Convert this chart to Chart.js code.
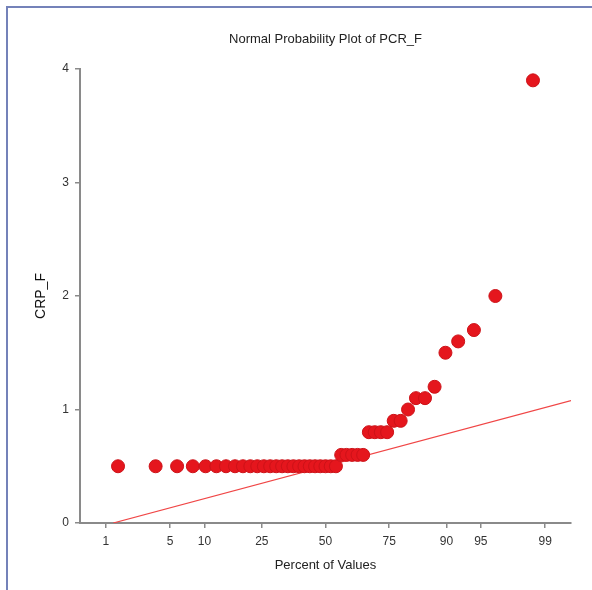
<!DOCTYPE html>
<html>
<head>
<meta charset="utf-8">
<script src="https://cdn.jsdelivr.net/npm/chart.js@4.4.0/dist/chart.umd.min.js"></script>
<style>
  html, body { margin: 0; padding: 0; background: #fff; }
  #wrap { position: relative; width: 592px; height: 590px; }
  #frame { position: absolute; left: 6px; top: 6px; right: 0; bottom: 0;
           border-left: 2px solid #7482b9; border-top: 2px solid #7482b9; pointer-events: none; }
  canvas { position: absolute; left: 0; top: 0; }
</style>
</head>
<body>
<div id="wrap">
  <canvas id="chart" width="592" height="590"></canvas>
  <div id="frame"></div>
</div>
<script>
// sorted CRP_F values
const crpValues = [
  0.5, 0.5, 0.5, 0.5, 0.5, 0.5, 0.5, 0.5, 0.5, 0.5,
  0.5, 0.5, 0.5, 0.5, 0.5, 0.5, 0.5, 0.5, 0.5, 0.5,
  0.5, 0.5, 0.5, 0.5, 0.5,
  0.6, 0.6, 0.6, 0.6, 0.6,
  0.8, 0.8, 0.8, 0.8,
  0.9, 0.9, 1.0, 1.1, 1.1, 1.2, 1.5, 1.6, 1.7, 2.0, 3.9
];
// percent of values for each point
const percents = [
  1.4, 3.6, 5.8, 8.0, 10.2, 12.4, 14.6, 16.9, 19.1, 21.3,
  23.5, 25.7, 27.9, 30.1, 32.3, 34.5, 36.7, 39.0, 41.2, 43.4,
  45.6, 47.8, 50.0, 52.2, 54.4,
  56.6, 58.8, 61.1, 63.3, 65.5,
  67.7, 69.9, 72.1, 74.3,
  76.5, 78.7, 80.9, 83.1, 85.4, 87.6, 89.8, 92.0, 94.2, 96.4, 98.6
];
const percentTicks = [1, 5, 10, 25, 50, 75, 90, 95, 99];
const yTicks = [0, 1, 2, 3, 4];
// reference line: value = intercept + slope * z
const refIntercept = 0.5;
const refSlope = 0.2224;

// inverse normal cdf (Acklam)
function probit(p) {
  const a = [-39.6968302866538, 220.946098424521, -275.928510446969, 138.357751867269, -30.6647980661472, 2.50662827745924];
  const b = [-54.4760987982241, 161.585836858041, -155.698979859887, 66.8013118877197, -13.2806815528857];
  const c = [-0.00778489400243029, -0.322396458041136, -2.40075827716184, -2.54973253934373, 4.37466414146497, 2.93816398269878];
  const d = [0.00778469570904146, 0.32246712907004, 2.445134137143, 3.75440866190742];
  const pl = 0.02425;
  let q, r;
  if (p < pl) {
    q = Math.sqrt(-2 * Math.log(p));
    return (((((c[0]*q+c[1])*q+c[2])*q+c[3])*q+c[4])*q+c[5]) / ((((d[0]*q+d[1])*q+d[2])*q+d[3])*q+1);
  } else if (p <= 1 - pl) {
    q = p - 0.5; r = q * q;
    return (((((a[0]*r+a[1])*r+a[2])*r+a[3])*r+a[4])*r+a[5])*q / (((((b[0]*r+b[1])*r+b[2])*r+b[3])*r+b[4])*r+1);
  } else {
    q = Math.sqrt(-2 * Math.log(1 - p));
    return -(((((c[0]*q+c[1])*q+c[2])*q+c[3])*q+c[4])*q+c[5]) / ((((d[0]*q+d[1])*q+d[2])*q+d[3])*q+1);
  }
}

const xMin = -2.6, xMax = 2.6;
const points = crpValues.map((v, i) => ({ x: probit(percents[i] / 100), y: v }));
const zStart = (0 - refIntercept) / refSlope;
const refLine = [
  { x: zStart, y: 0 },
  { x: xMax, y: refIntercept + refSlope * xMax }
];
const tickZ = percentTicks.map((p) => probit(p / 100));

Chart.defaults.font.family = "'Liberation Sans', Arial, sans-serif";
Chart.defaults.color = "#222";

new Chart(document.getElementById("chart").getContext("2d"), {
  type: "scatter",
  data: {
    datasets: [
      {
        label: "CRP_F",
        data: points,
        backgroundColor: "#e5161d",
        borderColor: "#cc1218",
        borderWidth: 1,
        pointRadius: 6.5,
        order: 0
      },
      {
        label: "ref",
        data: refLine,
        type: "line",
        showLine: true,
        borderColor: "#f04646",
        borderWidth: 1.2,
        pointRadius: 0,
        fill: false,
        order: 1
      }
    ]
  },
  options: {
    responsive: false,
    animation: false,
    layout: { padding: { left: 0, top: 0, right: 21, bottom: 0 } },
    plugins: {
      legend: { display: false },
      tooltip: { enabled: false },
      title: {
        display: true,
        text: "Normal Probability Plot of PCR_F",
        fullSize: false,
        font: { size: 13, weight: "normal" },
        color: "#222",
        padding: { top: 32, bottom: 21.4 }
      }
    },
    scales: {
      x: {
        type: "linear",
        min: xMin,
        max: xMax,
        afterFit: (scale) => { scale.height = 67; },
        afterBuildTicks: (scale) => { scale.ticks = tickZ.map((z) => ({ value: z })); },
        grid: { drawOnChartArea: false, drawTicks: true, tickLength: 5, color: "#8a8a8a", lineWidth: 1.5 },
        border: { display: true, color: "#8a8a8a", width: 2 },
        ticks: {
          autoSkip: false,
          maxRotation: 0,
          padding: 6,
          font: { size: 12 },
          color: "#333",
          callback: (val, idx) => String(percentTicks[idx])
        },
        title: {
          display: true,
          text: "Percent of Values",
          font: { size: 13 },
          color: "#222",
          padding: { top: 4, bottom: 17 }
        }
      },
      y: {
        type: "linear",
        min: 0,
        max: 4,
        afterFit: (scale) => { scale.width = 80; },
        afterBuildTicks: (scale) => { scale.ticks = yTicks.map((v) => ({ value: v })); },
        grid: { drawOnChartArea: false, drawTicks: true, tickLength: 5, color: "#8a8a8a", lineWidth: 1.5 },
        border: { display: true, color: "#8a8a8a", width: 2 },
        ticks: { padding: 6, font: { size: 12 }, color: "#333" },
        title: {
          display: true,
          text: "CRP_F",
          font: { size: 14 },
          color: "#111",
          padding: { top: 33, bottom: 0 }
        }
      }
    }
  }
});
</script>
</body>
</html>
